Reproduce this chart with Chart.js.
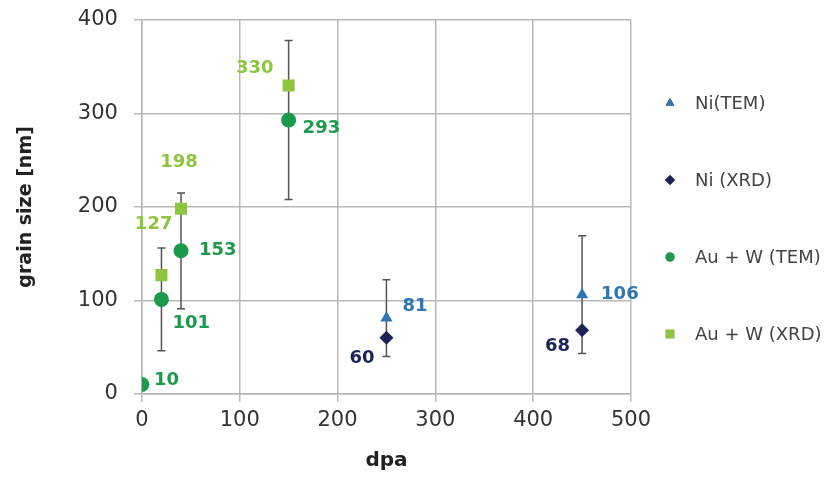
<!DOCTYPE html>
<html>
<head>
<meta charset="utf-8">
<script src="https://cdn.jsdelivr.net/npm/chart.js@4.4.0/dist/chart.umd.min.js"></script>
<style>
  html, body { margin: 0; padding: 0; background: #fff; }
  #wrap { width: 835px; height: 494px; }
</style>
</head>
<body>
<div id="wrap"><canvas id="grainChart"></canvas></div>
<script>
// axis ranges / ticks
const xTicks = [0, 100, 200, 300, 400, 500];
const yTicks = [0, 100, 200, 300, 400];

// Ni
const niDpa = [250, 450];
const niTem = [81, 106];
const niTemErr = [41, 63];
const niXrd = [60, 68];

// Au + W
const auwDpa = [0, 20, 40, 150];
const auwTem = [10, 101, 153, 293];
const auwTemErr = [0, 55, 62, 85];
const auwXrdDpa = [20, 40, 150];
const auwXrd = [127, 198, 330];

// label placement relative to the marker: [dx, dy, align]
const niTemLabelPos = [[16, -12, "left"], [19, 0, "left"]];
const niXrdLabelPos = [[-12, 21, "right"], [-12, 16, "right"]];
const auwTemLabelPos = [[12, -4, "left"], [11, 24, "left"], [18, 0, "left"], [14, 8, "left"]];
const auwXrdLabelPos = [[11, -51, "right"], [-2, -46, "center"], [-15, -17, "right"]];

const FONT = "'DejaVu Sans', sans-serif";

const toPoints = (xs, ys) => xs.map((x, i) => ({ x: x, y: ys[i] }));

// error bars drawn under the markers
const errorBars = {
  id: "errorBars",
  beforeDatasetsDraw(chart) {
    const ctx = chart.ctx;
    const xs = chart.scales.x, ys = chart.scales.y;
    ctx.save();
    ctx.strokeStyle = "#555";
    ctx.lineWidth = 1.5;
    chart.data.datasets.forEach(ds => {
      if (!ds.errors) return;
      ds.data.forEach((p, i) => {
        const e = ds.errors[i];
        if (!e) return;
        const px = xs.getPixelForValue(p.x);
        const top = ys.getPixelForValue(p.y + e);
        const bot = ys.getPixelForValue(p.y - e);
        ctx.beginPath();
        ctx.moveTo(px, top); ctx.lineTo(px, bot);
        ctx.moveTo(px - 4, top); ctx.lineTo(px + 4, top);
        ctx.moveTo(px - 4, bot); ctx.lineTo(px + 4, bot);
        ctx.stroke();
      });
    });
    ctx.restore();
  }
};

// value labels next to each marker
const valueLabels = {
  id: "valueLabels",
  afterDatasetsDraw(chart) {
    const ctx = chart.ctx;
    ctx.save();
    ctx.font = "bold 18px " + FONT;
    ctx.textBaseline = "middle";
    chart.data.datasets.forEach((ds, di) => {
      const meta = chart.getDatasetMeta(di);
      meta.data.forEach((el, i) => {
        const pos = ds.labelPos[i];
        ctx.fillStyle = ds.labelColor;
        ctx.textAlign = pos[2];
        ctx.fillText(String(ds.data[i].y), el.x + pos[0], el.y + pos[1]);
      });
    });
    ctx.restore();
  }
};

// legend on the right with wide spacing
const sideLegend = {
  id: "sideLegend",
  afterDraw(chart) {
    const ctx = chart.ctx;
    const area = chart.chartArea;
    ctx.save();
    ctx.font = "18px " + FONT;
    ctx.textBaseline = "middle";
    ctx.textAlign = "left";
    chart.data.datasets.forEach((ds, i) => {
      const x = area.right + 39;
      const y = area.top + 83 + i * 77;
      Chart.helpers.drawPoint(ctx, {
        pointStyle: ds.pointStyle,
        radius: ds.legendRadius,
        borderWidth: 0
      }, x, y);
      ctx.fillStyle = ds.backgroundColor;
      ctx.fill();
      ctx.fillStyle = "#444";
      ctx.fillText(ds.label, x + 25, y + 1);
    });
    ctx.restore();
  }
};

new Chart(document.getElementById("grainChart"), {
  type: "scatter",
  data: {
    datasets: [
      {
        label: "Ni(TEM)",
        data: toPoints(niDpa, niTem),
        errors: niTemErr,
        labelPos: niTemLabelPos,
        labelColor: "#2e75b6",
        backgroundColor: "#2e75b6",
        borderColor: "#2e75b6",
        pointStyle: "triangle",
        pointRadius: 7,
        legendRadius: 5
      },
      {
        label: "Ni (XRD)",
        data: toPoints(niDpa, niXrd),
        labelPos: niXrdLabelPos,
        labelColor: "#1b2456",
        backgroundColor: "#1b2456",
        borderColor: "#1b2456",
        pointStyle: "rectRot",
        pointRadius: 7,
        legendRadius: 5
      },
      {
        label: "Au + W (TEM)",
        data: toPoints(auwDpa, auwTem),
        errors: auwTemErr,
        labelPos: auwTemLabelPos,
        labelColor: "#1a9a4a",
        backgroundColor: "#1a9a4a",
        borderColor: "#1a9a4a",
        pointStyle: "circle",
        pointRadius: 7.5,
        legendRadius: 4.5
      },
      {
        label: "Au + W (XRD)",
        data: toPoints(auwXrdDpa, auwXrd),
        labelPos: auwXrdLabelPos,
        labelColor: "#8cc63f",
        backgroundColor: "#8cc63f",
        borderColor: "#8cc63f",
        pointStyle: "rect",
        pointRadius: 8.5,
        legendRadius: 6
      }
    ]
  },
  options: {
    responsive: true,
    maintainAspectRatio: false,
    animation: false,
    layout: { padding: { left: 10, right: 204, top: 20, bottom: 21 } },
    plugins: {
      legend: { display: false },
      tooltip: { enabled: false }
    },
    elements: { point: { borderWidth: 0, hoverRadius: 7 } },
    scales: {
      x: {
        type: "linear",
        min: xTicks[0],
        max: xTicks[xTicks.length - 1],
        afterBuildTicks: s => { s.ticks = xTicks.map(v => ({ value: v })); },
        grid: { color: "#b8b8b8", lineWidth: 1.5, tickLength: 8 },
        border: { color: "#b8b8b8", width: 1.5 },
        ticks: { color: "#333", font: { family: FONT, size: 21 }, padding: 6 },
        title: {
          display: true, text: "dpa", color: "#222",
          font: { family: FONT, size: 20, weight: "bold" },
          padding: { top: 10, bottom: 0 }
        }
      },
      y: {
        type: "linear",
        min: yTicks[0],
        max: yTicks[yTicks.length - 1],
        afterBuildTicks: s => { s.ticks = yTicks.map(v => ({ value: v })); },
        afterFit: s => { s.paddingTop = 0; },
        grid: { color: "#b8b8b8", lineWidth: 1.5, tickLength: 8 },
        border: { color: "#b8b8b8", width: 1.5 },
        ticks: { color: "#333", font: { family: FONT, size: 21 }, padding: 16 },
        title: {
          display: true, text: "grain size [nm]", color: "#222",
          font: { family: FONT, size: 19, weight: "bold" },
          padding: { top: 5, bottom: 24 }
        }
      }
    }
  },
  plugins: [errorBars, valueLabels, sideLegend]
});
</script>
</body>
</html>
